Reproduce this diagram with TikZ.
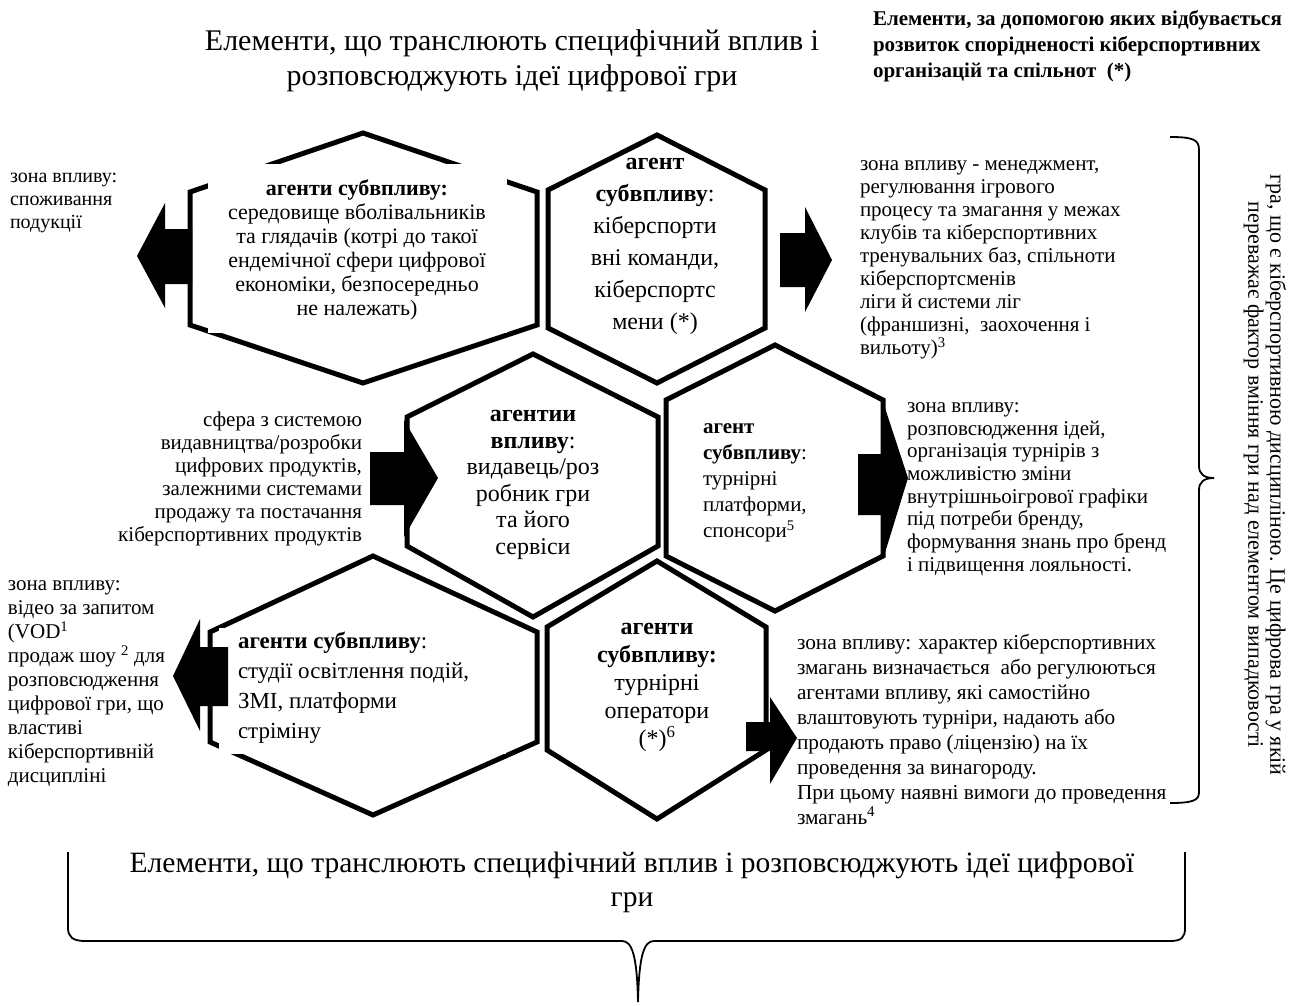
\documentclass[tikz,border=0pt]{standalone}
\usepackage{fontspec}
\setmainfont{Liberation Serif}
\begin{document}
\begin{tikzpicture}[x=1pt,y=-1pt,
  hexline/.style={draw=black,line width=5pt,line join=miter},
  boxw/.style={fill=white,draw=none},
  blk/.style={fill=black},
  txt/.style={inner sep=0pt,outer sep=0pt,font=\fontsize{21}{23}\selectfont},
  bracepath/.style={draw=black,line width=1.8pt},
]
\useasboundingbox[fill=white] (0,0) rectangle (1298,1006);

% hexagons
\draw[hexline] (190,192) -- (363,133) -- (537,192) -- (537,325) -- (363,383) -- (190,325) -- cycle;
\draw[hexline] (548,190) -- (657,135) -- (765,190) -- (765,328) -- (657,383) -- (548,328) -- cycle;
\draw[hexline] (407,417) -- (533,354) -- (658,417) -- (658,546) -- (533,617) -- (407,546) -- cycle;
\draw[hexline] (666,400) -- (775,345) -- (883,400) -- (883,556) -- (775,611) -- (666,556) -- cycle;
\draw[hexline] (210,632) -- (373,556) -- (537,632) -- (537,742) -- (373,815) -- (210,742) -- cycle;
\draw[hexline] (547,627) -- (657,561) -- (766,627) -- (766,750) -- (657,819) -- (547,750) -- cycle;

% white text boxes over the outlines
\fill[boxw] (208,164) rectangle (507,333);
\fill[boxw] (219,628) rectangle (506,754);

% titles
\node[txt,align=center,font=\fontsize{30}{35}\selectfont] (title) at (512,61)
  {Елементи, що транслюють специфічний вплив і\\розповсюджують ідеї цифрової гри};
\node[txt,anchor=west,align=left,font=\bfseries\fontsize{21}{26}\selectfont] (tr) at (873,46)
  {Елементи, за допомогою яких відбувається\\розвиток спорідненості кіберспортивних\\організацій та спільнот~ (*)};

% row 1
\node[txt,anchor=west,align=left,font=\fontsize{20}{23}\selectfont] (z1) at (10,203) {зона впливу:\\споживання\\подукції};
\node[txt,align=center,font=\fontsize{22}{24}\selectfont] (h1) at (357,250)
  {\textbf{агенти субвпливу:}\\середовище вболівальників\\та глядачів (котрі до такої\\ендемічної сфери цифрової\\економіки, безпосередньо\\не належать)};
\node[txt,align=center,font=\fontsize{24}{32}\selectfont] (h2) at (655,246)
  {\textbf{агент}\\\textbf{субвпливу}:\\кіберспорти\\вні команди,\\кіберспортс\\мени (*)};
\node[txt,anchor=west,align=left] (z2) at (860,260)
  {зона впливу - менеджмент,\\регулювання ігрового\\процесу та змагання у межах\\клубів та кіберспортивних\\тренувальних баз, спільноти\\кіберспортсменів\\ліги й системи ліг\\(франшизні,~ заохочення і\\вильоту)\textsuperscript{3}};

% row 2
\node[txt,anchor=east,align=right] (z3) at (362,479)
  {сфера з системою\\видавництва/розробки\\цифрових продуктів,\\залежними системами\\продажу та постачання\\кіберспортивних продуктів};
\node[txt,align=center,font=\fontsize{24}{26.5}\selectfont] (h3) at (533,485)
  {\textbf{агентии}\\\textbf{впливу}:\\видавець/роз\\робник гри\\та його\\сервіси};
\node[txt,anchor=west,align=left,font=\fontsize{21}{26}\selectfont] (h4) at (703,483)
  {\textbf{агент}\\\textbf{субвпливу}:\\турнірні\\платформи,\\спонсори\textsuperscript{5}};
\node[txt,anchor=west,align=left,font=\fontsize{21}{22.7}\selectfont] (z4) at (907,489)
  {зона впливу:\\розповсюдження ідей,\\організація турнірів з\\можливістю зміни\\внутрішньоігрової графіки\\під потреби бренду,\\формування знань про бренд\\і підвищення лояльності.};

% row 3
\node[txt,anchor=west,align=left,font=\fontsize{21}{24}\selectfont] (z5) at (8,684)
  {зона впливу:\\відео за запитом\\(VOD\textsuperscript{1}\\продаж шоу \textsuperscript{2} для\\розповсюдження\\цифрової гри, що\\властиві\\кіберспортивній\\дисципліні};
\node[txt,anchor=west,align=left,font=\fontsize{23}{30}\selectfont] (h5) at (238,688)
  {\textbf{агенти субвпливу}:\\студії освітлення подій,\\ЗМІ, платформи\\стріміну};
\node[txt,align=center,font=\fontsize{24}{28}\selectfont] (h6) at (657,687)
  {\textbf{агенти}\\\textbf{субвпливу:}\\турнірні\\оператори\\(*)\textsuperscript{6}};
\node[txt,anchor=west,align=left,font=\fontsize{21.3}{25}\selectfont] (z6) at (797,729)
  {зона впливу: характер кіберспортивних\\змагань визначається~ або регулюються\\агентами впливу, які самостійно\\влаштовують турніри, надають або\\продають право (ліцензію) на їх\\проведення за винагороду.\\При цьому наявні вимоги до проведення\\змагань\textsuperscript{4}};

% block arrows
\fill[blk] (137,256) -- (165,203) -- (165,229) -- (192,229) -- (192,284) -- (165,284) -- (165,308) -- cycle;
\fill[blk] (780,233) -- (805,233) -- (805,207) -- (832,260) -- (805,312) -- (805,287) -- (780,287) -- cycle;
\fill[blk] (370,452) -- (404,452) -- (404,420) -- (438,478) -- (404,537) -- (404,505) -- (370,505) -- cycle;
\fill[blk] (858,454) -- (884,454) -- (884,405) -- (908,478) -- (884,556) -- (884,515) -- (858,515) -- cycle;
\fill[blk] (173,676) -- (200,619) -- (200,647) -- (228,647) -- (228,706) -- (200,706) -- (200,731) -- cycle;
\fill[blk] (746,722) -- (770,722) -- (770,697) -- (797,738) -- (770,784) -- (770,751) -- (746,751) -- cycle;

% right brace and vertical text
\draw[bracepath] (1170,137) .. controls (1194,137) and (1199,140) .. (1199,150) -- (1199,466)
  .. controls (1199,474) and (1204,478) .. (1214,478) .. controls (1204,478) and (1199,482) .. (1199,490)
  -- (1199,792) .. controls (1199,800) and (1194,803) .. (1170,803);
\node[txt,rotate=-90,align=center,font=\fontsize{22}{22}\selectfont] (vt) at (1265,475)
  {гра, що є кіберспортивною дисципліною. Це цифрова гра у якій\\переважає фактор вміння гри над елементом випадковості};

% bottom title and brace
\node[txt,align=center,font=\fontsize{29.5}{34}\selectfont] (btitle) at (632,882)
  {Елементи, що транслюють специфічний вплив і розповсюджують ідеї цифрової\\гри};
\draw[bracepath] (68,852) -- (68,928) .. controls (68,937) and (73,941) .. (85,941) -- (622,941)
  .. controls (632,941) and (637,955) .. (638,1002) .. controls (639,955) and (644,941) .. (654,941)
  -- (1170,941) .. controls (1182,941) and (1185,937) .. (1185,928) -- (1185,852);
\end{tikzpicture}
\end{document}
